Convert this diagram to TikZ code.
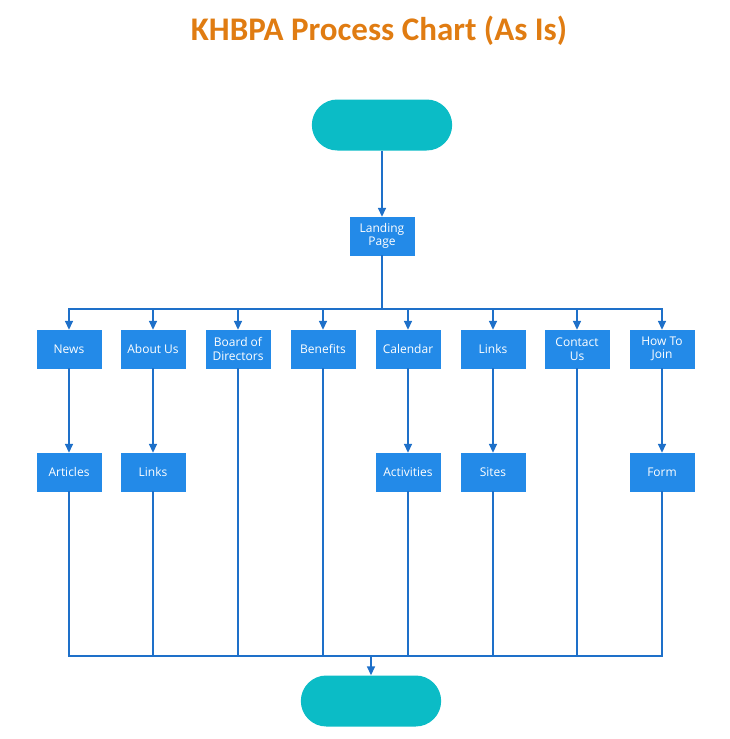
\documentclass[tikz,border=0pt]{standalone}
\usepackage{fontspec}
\setmainfont{Open Sans}
\newfontfamily\titlefont{Carlito}
\usetikzlibrary{shapes.misc,arrows.meta}

\definecolor{boxblue}{HTML}{238AE8}
\definecolor{lineblue}{HTML}{1E70C9}
\definecolor{termteal}{HTML}{0BBCC6}
\definecolor{titleorange}{HTML}{E07C12}

\tikzset{
  page/.style={draw, fill=boxblue, text=white, minimum width=64pt, minimum height=38pt,
    inner sep=0pt, align=center, font=\fontsize{12}{13.5}\selectfont},
  term/.style={rounded rectangle, fill=termteal, minimum width=147pt, minimum height=51pt},
  link/.style={draw=lineblue, line width=1.6pt},
}

\begin{document}
\begin{tikzpicture}[x=1pt, y=-1pt, >={Triangle[length=9pt,width=8pt]}]
\useasboundingbox (0,0) rectangle (730,739);

\node[anchor=base, text=titleorange, font=\titlefont\bfseries\fontsize{33}{37}\selectfont] (title) at (379,40) {KHBPA Process Chart (As Is)};

\node[term] (start) at (382,125) {};
\node[page, draw=boxblue] (landing) at (382,236) {Landing\\Page};

\node[page, draw=boxblue] (news) at (69,349) {News};
\node[page, draw=boxblue] (about) at (153,349) {About Us};
\node[page, draw=boxblue] (board) at (238,349) {Board of\\Directors};
\node[page, draw=boxblue] (benefits) at (323,349) {Benefits};
\node[page, draw=boxblue] (calendar) at (408,349) {Calendar};
\node[page, draw=boxblue] (links) at (493,349) {Links};
\node[page, draw=boxblue] (contact) at (577,349) {Contact\\Us};
\node[page, draw=boxblue] (join) at (662,349) {How To\\Join};

\node[page, draw=boxblue] (articles) at (69,472) {Articles};
\node[page, draw=boxblue] (aboutlinks) at (153,472) {Links};
\node[page, draw=boxblue] (activities) at (408,472) {Activities};
\node[page, draw=boxblue] (sites) at (493,472) {Sites};
\node[page, draw=boxblue] (form) at (662,472) {Form};

\node[term] (stop) at (371,701) {};

\coordinate (bus) at (382,309);
\coordinate (merge) at (371,656);

\path[link,->] (start) -- (landing);
\path[link] (landing) -- (bus);
\path[link,->] (bus) -| (news);
\path[link,->] (bus) -| (about);
\path[link,->] (bus) -| (board);
\path[link,->] (bus) -| (benefits);
\path[link,->] (bus) -| (calendar);
\path[link,->] (bus) -| (links);
\path[link,->] (bus) -| (contact);
\path[link,->] (bus) -| (join);

\path[link,->] (news) -- (articles);
\path[link,->] (about) -- (aboutlinks);
\path[link,->] (calendar) -- (activities);
\path[link,->] (links) -- (sites);
\path[link,->] (join) -- (form);

\path[link] (articles) |- (merge);
\path[link] (aboutlinks) |- (merge);
\path[link] (board) |- (merge);
\path[link] (benefits) |- (merge);
\path[link] (activities) |- (merge);
\path[link] (sites) |- (merge);
\path[link] (contact) |- (merge);
\path[link] (form) |- (merge);
\path[link,->] (merge) -- (stop);
\end{tikzpicture}
\end{document}
